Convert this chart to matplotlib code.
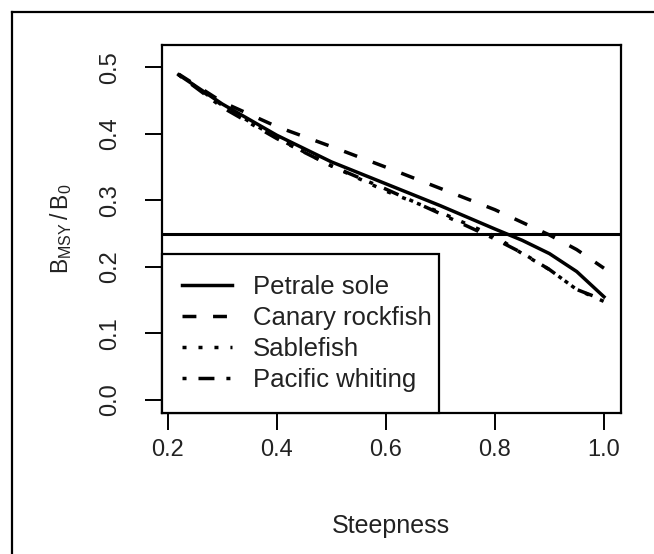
import matplotlib
matplotlib.use("Agg")
import matplotlib.pyplot as plt
from matplotlib.lines import Line2D

plt.rcParams['font.family'] = ['Liberation Sans', 'DejaVu Sans']
plt.rcParams['mathtext.fontset'] = 'custom'
plt.rcParams['mathtext.rm'] = 'Liberation Sans'
plt.rcParams['lines.scale_dashes'] = False

# steepness values and B_MSY/B_0
steepness = [0.22, 0.30, 0.40, 0.50, 0.60, 0.70, 0.80, 0.85, 0.90, 0.95, 1.00]
petrale = [0.489, 0.445, 0.398, 0.358, 0.325, 0.292, 0.257, 0.240, 0.220, 0.193, 0.155]
canary = [0.490, 0.448, 0.411, 0.381, 0.350, 0.318, 0.286, 0.267, 0.248, 0.226, 0.198]
sablefish = [0.489, 0.443, 0.394, 0.352, 0.314, 0.282, 0.246, 0.220, 0.196, 0.166, 0.148]
whiting = [0.489, 0.440, 0.393, 0.352, 0.317, 0.280, 0.242, 0.221, 0.196, 0.166, 0.150]
target = 0.25

x_ticks = [0.2, 0.4, 0.6, 0.8, 1.0]
y_ticks = [0.0, 0.1, 0.2, 0.3, 0.4, 0.5]

fig = plt.figure(figsize=(6.54, 5.54), dpi=100)
ax = fig.add_axes([0.2472, 0.2545, 0.7023, 0.6643])

lw = 2.5
ax.plot(steepness, petrale, color='black', lw=lw, label='Petrale sole')
ax.plot(steepness, canary, color='black', lw=lw, dashes=[10, 12], label='Canary rockfish')
ax.plot(steepness, sablefish, color='black', lw=lw, dashes=[2.9, 8.6], label='Sablefish')
ax.plot(steepness, whiting, color='black', lw=lw, dashes=[2.9, 8.6, 11.5, 8.6], label='Pacific whiting')
ax.axhline(target, color='black', lw=2.2)

ax.set_xlim(0.1888, 1.0312)
ax.set_ylim(-0.0198, 0.5338)
ax.set_xticks(x_ticks)
ax.set_yticks(y_ticks)
ax.set_xticklabels(['%.1f' % v for v in x_ticks])
ax.set_yticklabels(['%.1f' % v for v in y_ticks], rotation=90, va='center')

for s in ax.spines.values():
    s.set_linewidth(1.6)
ax.tick_params(axis='both', length=12, width=1.4, color='black', labelsize=17, labelcolor='#222222')
ax.tick_params(axis='x', pad=7)
ax.tick_params(axis='y', pad=17)

ax.set_xlabel('Steepness', fontsize=18, color='#222222', labelpad=38)
ax.set_ylabel(r'$\mathregular{B_{MSY}\,/\,B_0}$', fontsize=16.5, color='#222222', labelpad=18)

leg = ax.legend(loc='lower left', bbox_to_anchor=(0, 0, 0.6034, 0.5), mode='expand',
                borderaxespad=0, fontsize=18.5, handlelength=1.95, handletextpad=0.8,
                labelspacing=0.28, borderpad=0.8, fancybox=False, framealpha=1)
leg.get_frame().set_edgecolor('black')
leg.get_frame().set_linewidth(1.6)
for t in leg.get_texts():
    t.set_color('#222222')

# outer frame (only left and top edges visible in the crop)
fig.add_artist(Line2D([11.7 / 654, 11.7 / 654], [0, 1 - 11.7 / 554], transform=fig.transFigure, color='black', lw=1.6))
fig.add_artist(Line2D([11.7 / 654, 1], [1 - 11.7 / 554, 1 - 11.7 / 554], transform=fig.transFigure, color='black', lw=1.6))

fig.savefig('out.png', dpi=100)
